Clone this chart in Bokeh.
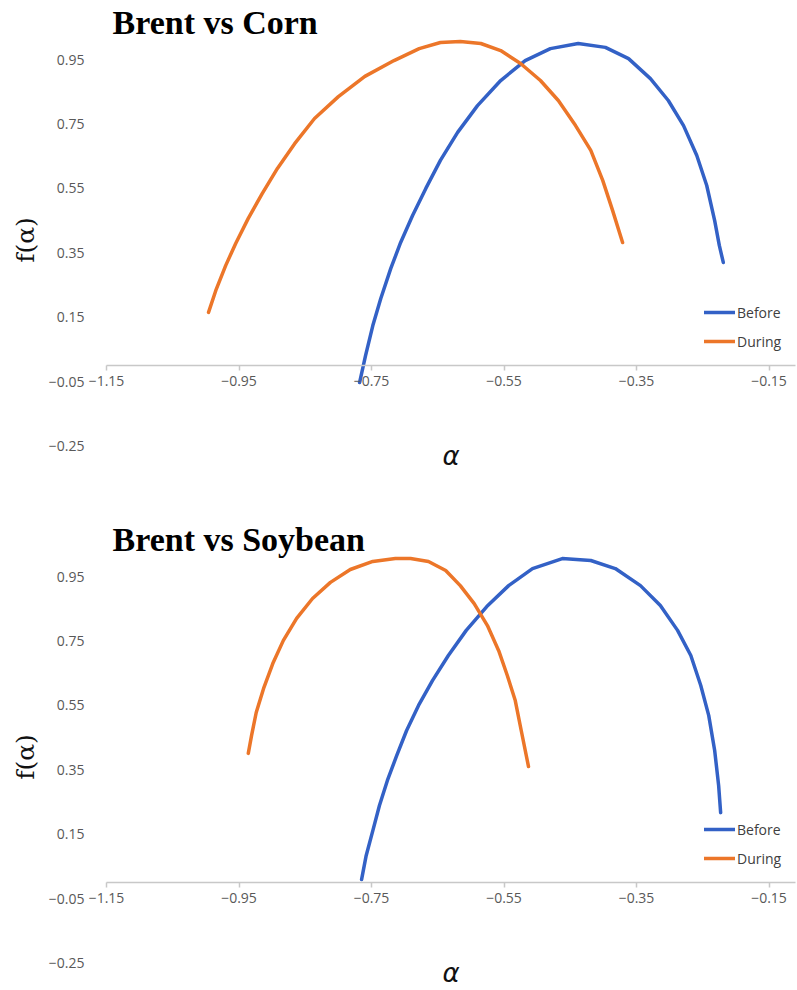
from bokeh.plotting import figure
from bokeh.models import (LinearAxis, FixedTicker, CustomJSTickFormatter, Range1d,
                          Legend, LegendItem, Label)
from bokeh.layouts import column
from bokeh.embed import file_html
from bokeh.resources import INLINE

# ---- data ----
x_ticks = [-1.15, -0.95, -0.75, -0.55, -0.35, -0.15]
y_ticks = [-0.25, -0.05, 0.15, 0.35, 0.55, 0.75, 0.95]

corn_before_x = [-0.768, -0.759, -0.748, -0.736, -0.721, -0.706, -0.688, -0.668, -0.646,
                 -0.620, -0.590, -0.555, -0.518, -0.480, -0.438, -0.397, -0.362, -0.329,
                 -0.302, -0.279, -0.259, -0.244, -0.232, -0.225, -0.219]
corn_before_y = [-0.053, 0.031, 0.124, 0.208, 0.301, 0.382, 0.466, 0.550, 0.637,
                 0.724, 0.807, 0.885, 0.947, 0.984, 1.000, 0.988, 0.953, 0.891,
                 0.823, 0.745, 0.652, 0.559, 0.450, 0.373, 0.320]
corn_during_x = [-0.996, -0.985, -0.970, -0.955, -0.936, -0.915, -0.892, -0.866, -0.836,
                 -0.800, -0.760, -0.716, -0.678, -0.646, -0.616, -0.585, -0.555, -0.525,
                 -0.495, -0.468, -0.442, -0.419, -0.401, -0.386, -0.371]
corn_during_y = [0.165, 0.233, 0.311, 0.379, 0.457, 0.534, 0.612, 0.689, 0.767,
                 0.835, 0.898, 0.947, 0.984, 1.003, 1.006, 1.000, 0.978, 0.938,
                 0.885, 0.823, 0.745, 0.668, 0.575, 0.481, 0.382]

soy_before_x = [-0.765, -0.758, -0.748, -0.738, -0.726, -0.712, -0.697, -0.679, -0.658,
                -0.634, -0.607, -0.576, -0.543, -0.507, -0.462, -0.419, -0.382, -0.344,
                -0.314, -0.288, -0.268, -0.253, -0.241, -0.232, -0.226, -0.223]
soy_before_y = [0.009, 0.084, 0.161, 0.239, 0.317, 0.394, 0.472, 0.550, 0.627,
                0.705, 0.783, 0.857, 0.922, 0.975, 1.006, 1.000, 0.975, 0.922,
                0.860, 0.783, 0.705, 0.612, 0.519, 0.410, 0.301, 0.217]
soy_during_x = [-0.936, -0.931, -0.924, -0.913, -0.899, -0.883, -0.863, -0.839, -0.812,
                -0.782, -0.748, -0.714, -0.691, -0.664, -0.638, -0.616, -0.595, -0.575,
                -0.558, -0.545, -0.533, -0.524, -0.513]
soy_during_y = [0.401, 0.457, 0.528, 0.602, 0.680, 0.752, 0.820, 0.882, 0.932,
                0.972, 0.997, 1.006, 1.006, 0.997, 0.969, 0.922, 0.866, 0.798,
                0.720, 0.643, 0.565, 0.472, 0.360]

BLUE = "#3361C6"
ORANGE = "#EC7629"
TICK_COLOR = "#595959"
AXIS_COLOR = "#c8c8c8"

fmt = CustomJSTickFormatter(code="return tick.toFixed(2).replace('-', '\u2212');")

PX_X = 662.5   # pixels per unit along x
PX_Y = 322.0   # pixels per unit along y


def make_panel(title, bx, by, dx, dy, height):
    y_end = 365.0 / PX_Y
    y_start = y_end - height / PX_Y
    p = figure(width=797, height=height, output_backend="svg", toolbar_location=None,
               x_axis_type=None, y_axis_type=None,
               x_range=Range1d(-1.15 - 106.0 / PX_X, -1.15 + 691.0 / PX_X),
               y_range=Range1d(y_start, y_end),
               min_border_left=0, min_border_right=0, min_border_top=0,
               min_border_bottom=0)
    p.outline_line_color = None
    p.xgrid.visible = False
    p.ygrid.visible = False
    p.background_fill_color = "white"
    p.border_fill_color = "white"

    # y axis at alpha = -1.15 (no line, only labels)
    ya = LinearAxis(fixed_location=-1.15, bounds=(-0.25, 1.03),
                    ticker=FixedTicker(ticks=y_ticks), formatter=fmt,
                    axis_line_color=None, major_tick_line_color=None,
                    minor_tick_line_color=None, major_label_standoff=16,
                    major_label_text_font="Open Sans", major_label_text_font_size="14px",
                    major_label_text_color=TICK_COLOR,
                    axis_label="f(\u03b1)", axis_label_text_font="DejaVu Serif",
                    axis_label_text_font_style="normal", axis_label_text_font_size="25px",
                    axis_label_text_color="#111111", axis_label_standoff=6)
    p.add_layout(ya, "left")

    # x axis crossing at f = 0
    xa = LinearAxis(fixed_location=0, bounds=(-1.15, -0.11),
                    ticker=FixedTicker(ticks=x_ticks), formatter=fmt,
                    axis_line_color=AXIS_COLOR, axis_line_width=1.5,
                    major_tick_line_color=AXIS_COLOR, major_tick_line_width=1.5,
                    major_tick_out=5, major_tick_in=0, minor_tick_line_color=None,
                    major_label_standoff=5,
                    major_label_text_font="Open Sans",
                    major_label_text_font_size="14px", major_label_text_color=TICK_COLOR,
                    axis_label="\u03b1", axis_label_text_font="DejaVu Sans",
                    axis_label_text_font_style="italic", axis_label_text_font_size="26px",
                    axis_label_text_color="#111111", axis_label_standoff=52)
    p.add_layout(xa, "below")

    r1 = p.line(bx, by, line_color=BLUE, line_width=3.5, line_join="round", line_cap="round")
    r2 = p.line(dx, dy, line_color=ORANGE, line_width=3.5, line_join="round", line_cap="round")

    legend = Legend(items=[LegendItem(label="Before", renderers=[r1]),
                           LegendItem(label="During", renderers=[r2])],
                    location=(704, height - 351),
                    orientation="vertical", border_line_color=None,
                    background_fill_alpha=0, padding=0, margin=0, spacing=9,
                    glyph_width=31, glyph_height=20, label_height=20,
                    label_standoff=2,
                    label_text_font="Open Sans",
                    label_text_font_size="14px", label_text_color="#404040")
    p.add_layout(legend)

    t = Label(x=-1.15 + 6 / PX_X, y=(365.0 - 22) / PX_Y, text=title,
              text_font="Liberation Serif", text_font_style="bold",
              text_font_size="34px", text_baseline="middle", text_align="left",
              text_color="black")
    p.add_layout(t)
    return p


p1 = make_panel("Brent vs Corn", corn_before_x, corn_before_y, corn_during_x, corn_during_y, 517)
p2 = make_panel("Brent vs Soybean", soy_before_x, soy_before_y, soy_during_x, soy_during_y, 473)

layout = column(p1, p2, spacing=0)
open("out.html", "w").write(file_html(layout, INLINE))
